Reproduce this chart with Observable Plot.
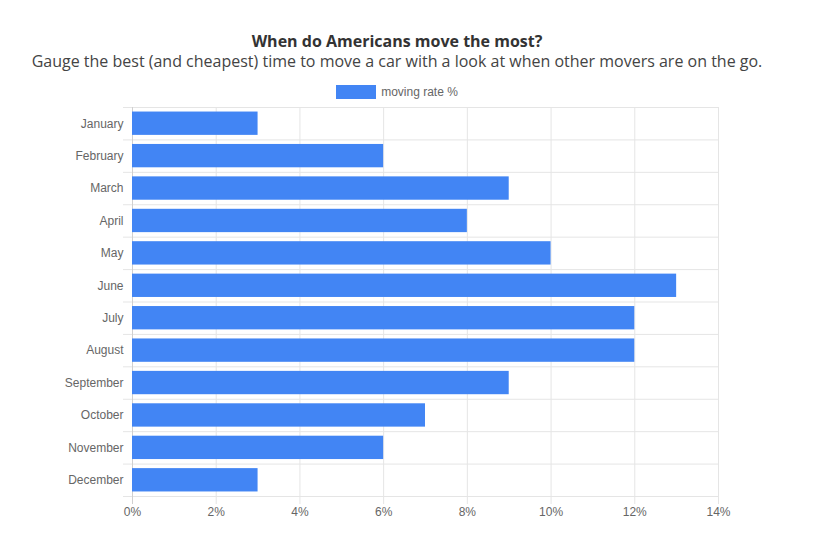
<!DOCTYPE html>
<html>
<head>
<meta charset="utf-8">
<script src="https://cdn.jsdelivr.net/npm/d3@7/dist/d3.min.js"></script>
<script src="https://cdn.jsdelivr.net/npm/@observablehq/plot@0.6/dist/plot.umd.min.js"></script>
<style>
  body { margin: 0; background: #fff; }
  #wrap { width: 816px; height: 539px; position: relative; }
  .title { position: absolute; left: 0; width: 794px; text-align: center; font-family: "Open Sans", sans-serif; color: #333; }
  #t1 { top: 30px; font-size: 16px; font-weight: 700; }
  #t2 { top: 50px; font-size: 16px; font-weight: 400; color: #444; }
  #legend { position: absolute; top: 84px; left: 0; width: 794px; text-align: center; font-family: "Liberation Sans", Arial, sans-serif; font-size: 12px; color: #666; }
  #legend .sw { display: inline-block; width: 40px; height: 14px; background: #4285f4; vertical-align: middle; margin-right: 5px; }
  #legend span { vertical-align: middle; }
  #chart { position: absolute; top: 100px; left: 0; }
  #chart svg { display: block; }
</style>
</head>
<body>
<div id="wrap">
  <div class="title" id="t1">When do Americans move the most?</div>
  <div class="title" id="t2">Gauge the best (and cheapest) time to move a car with a look at when other movers are on the go.</div>
  <div id="legend"><span class="sw"></span><span>moving rate %</span></div>
  <div id="chart"></div>
</div>
<script>
const months = ["January","February","March","April","May","June","July","August","September","October","November","December"];
const values = [3, 6, 9, 8, 10, 13, 12, 12, 9, 7, 6, 3];
const xTicks = [0, 2, 4, 6, 8, 10, 12, 14];

const data = months.map((m, i) => ({month: m, value: values[i]}));

const W = 816, H = 439, mt = 7, mb = 43, ml = 132, mr = 98;
const step = (H - mt - mb) / months.length;
const grid = "#e5e5e5";

try {
const chart = Plot.plot({
  width: W,
  height: H,
  marginTop: mt,
  marginBottom: mb,
  marginLeft: ml,
  marginRight: mr,
  style: {fontFamily: "'Liberation Sans', Arial, sans-serif", fontSize: "12px", color: "#666", background: "#fff"},
  x: {domain: [0, 14]},
  y: {domain: months, paddingInner: 0.28, paddingOuter: 0.14, round: false},
  marks: [
    Plot.ruleX(xTicks, {x: d => d, stroke: grid, insetBottom: -8}),
    Plot.ruleY(months, {y: d => d, dy: -step / 2, stroke: grid, insetLeft: -9}),
    Plot.ruleY([months[months.length - 1]], {y: d => d, dy: step / 2, stroke: grid, insetLeft: -9}),
    Plot.ruleX([0], {x: d => d, stroke: "#d0d0d0", insetBottom: -8}),
    Plot.barX(data, {x: "value", y: "month", fill: "#4285f4"}),
    Plot.axisX({ticks: xTicks, tickFormat: d => d + "%", tickSize: 0, tickPadding: 11, label: null}),
    Plot.axisY({tickSize: 0, tickPadding: 9, label: null})
  ]
});
document.getElementById("chart").appendChild(chart);
} catch (e) {
  document.getElementById("chart").textContent = "ERR: " + e.message;
}
</script>
</body>
</html>
